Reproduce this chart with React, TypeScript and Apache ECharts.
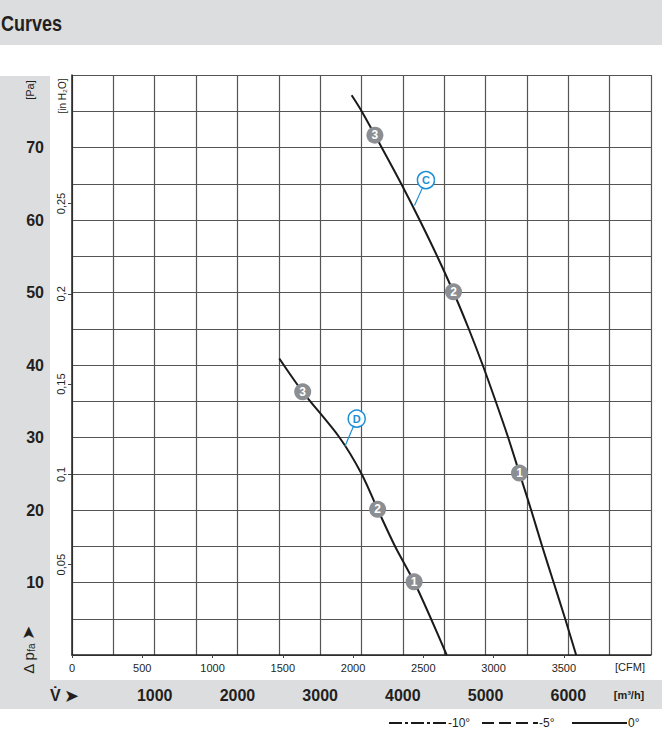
import React, { useEffect, useRef } from "react";
import * as echarts from "echarts";

// ---- data (flow in m³/h, pressure in Pa) ----
const curveCFlow = [3381, 3502, 3744, 3980, 4203, 4415, 4614, 4796, 4965, 5122, 5273, 5412, 5551, 5684, 5823, 5962, 6095];
const curveCPa = [77.2, 75, 70, 65, 60, 55, 50, 45, 40, 35, 30, 25, 20, 15, 10, 5, 0];
const curveDFlow = [2506, 2789, 3234, 3500, 3699, 3905, 4140, 4340, 4530];
const curveDPa = [40.9, 36.3, 30, 25, 20, 15, 10, 5, 0];
const markerCFlow = [3662, 4612, 5410];
const markerCPa = [71.7, 50.1, 25.1];
const markerDFlow = [2789, 3695, 4136];
const markerDPa = [36.3, 20.1, 10.1];
const markerNames = ["3", "2", "1"];
const curveLabels = ["C", "D"];
const labelFlow = [4279, 3442];
const labelPa = [65.5, 32.6];
const leaderFlow = [4140, 3300];
const leaderPa = [62.0, 28.8];

const flowTicks = [1000, 2000, 3000, 4000, 5000, 6000];
const cfmTicks = [0, 500, 1000, 1500, 2000, 2500, 3000, 3500];
const paTicks = [10, 20, 30, 40, 50, 60, 70];
const inH2OTicks = [0.05, 0.1, 0.15, 0.2, 0.25];

const FLOW_MAX = 7000;
const PA_MAX = 80;
const M3H_PER_CFM = 1.69901;
const PA_PER_INH2O = 249.0889;

const FONT = '"Liberation Sans Narrow", "Liberation Sans", Arial, sans-serif';
const TXT = "#231f20";
const BAND = "#dcdddf";
const BLUE = "#1e8fd6";

export default function App() {
  const ref = useRef<HTMLDivElement>(null);
  useEffect(() => {
    if (!ref.current) return;
    const chart = echarts.init(ref.current, null, { renderer: "svg" });
    const zip = (a: number[], b: number[]) => a.map((v, i) => [v, b[i]]);
    const lineStyle = { color: "#1a1a1a", width: 2 };
    const markerSeries = (xs: number[], ys: number[]) => ({
      type: "scatter",
      data: xs.map((v, i) => ({ value: [v, ys[i]], name: markerNames[i] })),
      symbolSize: 17,
      itemStyle: { color: "#8b8e92", opacity: 1 },
      label: {
        show: true,
        position: "inside",
        formatter: (p: any) => p.name,
        color: "#fff",
        fontWeight: "bold",
        fontSize: 12,
        fontFamily: FONT,
      },
      z: 5,
    });
    const option: any = {
      animation: false,
      grid: { left: 72, top: 75, width: 579, height: 580, containLabel: false },
      xAxis: [
        {
          type: "value",
          min: 0,
          max: FLOW_MAX,
          interval: 500,
          position: "bottom",
          axisLine: { show: true, lineStyle: { color: "#222", width: 1.5 } },
          axisTick: { show: false },
          splitLine: { show: true, lineStyle: { color: "#555", width: 1.2 } },
          axisLabel: {
            customValues: flowTicks,
            formatter: (v: number) => String(v),
            margin: 32,
            fontSize: 16,
            fontWeight: "bold",
            color: TXT,
            fontFamily: FONT,
          },
        },
        {
          type: "value",
          min: 0,
          max: FLOW_MAX / M3H_PER_CFM,
          interval: 500,
          position: "bottom",
          axisLine: { show: false },
          axisTick: { show: true, customValues: cfmTicks, length: 3, lineStyle: { color: "#444" } },
          splitLine: { show: false },
          axisLabel: {
            customValues: cfmTicks,
            formatter: (v: number) => String(v),
            margin: 7,
            fontSize: 11,
            color: TXT,
            fontFamily: FONT,
          },
        },
      ],
      yAxis: [
        {
          type: "value",
          min: 0,
          max: PA_MAX,
          interval: 5,
          position: "left",
          axisLine: { show: true, lineStyle: { color: "#222", width: 1.5 } },
          axisTick: { show: false },
          splitLine: { show: true, lineStyle: { color: "#555", width: 1.2 } },
          axisLabel: {
            customValues: paTicks,
            formatter: (v: number) => String(v),
            margin: 28,
            fontSize: 16,
            fontWeight: "bold",
            color: TXT,
            fontFamily: FONT,
          },
        },
        {
          type: "value",
          min: 0,
          max: PA_MAX / PA_PER_INH2O,
          interval: 0.05,
          position: "left",
          axisLine: { show: false },
          axisTick: { show: true, customValues: inH2OTicks, length: 4, lineStyle: { color: "#444" } },
          splitLine: { show: false },
          axisLabel: {
            customValues: inH2OTicks,
            rotate: 90,
            margin: 6,
            fontSize: 11,
            color: TXT,
            fontFamily: FONT,
            formatter: (v: number) => {
              let s = v.toFixed(2);
              if (s.endsWith("0")) s = s.slice(0, -1);
              return s.replace(".", ",");
            },
          },
        },
      ],
      series: [
        { type: "line", data: zip(curveCFlow, curveCPa), symbol: "none", smooth: 0.3, lineStyle, z: 3 },
        { type: "line", data: zip(curveDFlow, curveDPa), symbol: "none", smooth: 0.3, lineStyle, z: 3 },
        markerSeries(markerCFlow, markerCPa),
        markerSeries(markerDFlow, markerDPa),
        ...curveLabels.map((_, i) => ({
          type: "line",
          data: [
            [labelFlow[i], labelPa[i]],
            [leaderFlow[i], leaderPa[i]],
          ],
          symbol: "none",
          lineStyle: { color: BLUE, width: 1.2 },
          z: 4,
        })),
        {
          type: "scatter",
          data: curveLabels.map((n, i) => ({ value: [labelFlow[i], labelPa[i]], name: n })),
          symbolSize: 17,
          itemStyle: { color: "#fff", borderColor: BLUE, borderWidth: 1.5, opacity: 1 },
          label: {
            show: true,
            position: "inside",
            formatter: (p: any) => p.name,
            color: BLUE,
            fontWeight: "bold",
            fontSize: 11,
            fontFamily: FONT,
          },
          z: 6,
        },
      ],
      graphic: [
        { type: "rect", z: -10, shape: { x: 0, y: 0, width: 662, height: 45 }, style: { fill: BAND } },
        { type: "rect", z: -10, shape: { x: 0, y: 76, width: 50, height: 604 }, style: { fill: BAND } },
        { type: "rect", z: -10, shape: { x: 0, y: 680, width: 662, height: 29 }, style: { fill: BAND } },
        {
          type: "text",
          x: 1,
          y: 23,
          scaleX: 0.82,
          style: { text: "Curves", fontSize: 22, fontWeight: "bold", fontFamily: FONT, fill: TXT, verticalAlign: "middle" },
        },
        {
          type: "text",
          x: 30,
          y: 90,
          rotation: Math.PI / 2,
          style: { text: "[Pa]", fontSize: 11, fontFamily: FONT, fill: TXT, align: "center", verticalAlign: "middle" },
        },
        {
          type: "text",
          x: 62,
          y: 96,
          rotation: Math.PI / 2,
          style: { text: "[in H₂O]", fontSize: 10, fontFamily: FONT, fill: TXT, align: "center", verticalAlign: "middle" },
        },
        {
          type: "text",
          x: 28,
          y: 650,
          rotation: Math.PI / 2,
          style: {
            text: "{a|Δ p}{s|fa} {b|➤}",
            rich: {
              a: { fontSize: 15, fontFamily: FONT, fill: TXT },
              s: { fontSize: 10, fontFamily: FONT, fill: TXT, padding: [7, 0, 0, 0] },
              b: { fontSize: 17, fontFamily: "DejaVu Sans", fill: TXT },
            },
            align: "center",
            verticalAlign: "middle",
          },
        },
        {
          type: "text",
          x: 50,
          y: 695,
          style: {
            text: "{a|V̇} {b|➤}",
            rich: {
              a: { fontSize: 16, fontWeight: "bold", fontFamily: FONT, fill: TXT },
              b: { fontSize: 18, fontFamily: "DejaVu Sans", fill: TXT },
            },
            verticalAlign: "middle",
          },
        },
        {
          type: "text",
          x: 630,
          y: 667,
          style: { text: "[CFM]", fontSize: 11, fontFamily: FONT, fill: TXT, align: "center", verticalAlign: "middle" },
        },
        {
          type: "text",
          x: 629,
          y: 695,
          style: { text: "[m³/h]", fontSize: 11, fontWeight: "bold", fontFamily: FONT, fill: TXT, align: "center", verticalAlign: "middle" },
        },
        // legend
        { type: "line", shape: { x1: 389, y1: 723, x2: 446, y2: 723 }, style: { stroke: "#1a1a1a", lineWidth: 2, lineDash: [13, 3, 3, 3] } },
        { type: "text", x: 448, y: 723, style: { text: "-10°", fontSize: 12, fontFamily: FONT, fill: TXT, verticalAlign: "middle" } },
        { type: "line", shape: { x1: 482, y1: 723, x2: 538, y2: 723 }, style: { stroke: "#1a1a1a", lineWidth: 2, lineDash: [12, 5] } },
        { type: "text", x: 539, y: 723, style: { text: "-5°", fontSize: 12, fontFamily: FONT, fill: TXT, verticalAlign: "middle" } },
        { type: "line", shape: { x1: 572, y1: 723, x2: 627, y2: 723 }, style: { stroke: "#1a1a1a", lineWidth: 2 } },
        { type: "text", x: 628, y: 723, style: { text: "0°", fontSize: 12, fontFamily: FONT, fill: TXT, verticalAlign: "middle" } },
      ],
    };
    chart.setOption(option);
    return () => chart.dispose();
  }, []);
  return (
    <div style={{ position: "absolute", left: 0, top: 0, width: 662, height: 743, background: "#fff" }}>
      <div ref={ref} style={{ width: 662, height: 743 }} />
    </div>
  );
}
